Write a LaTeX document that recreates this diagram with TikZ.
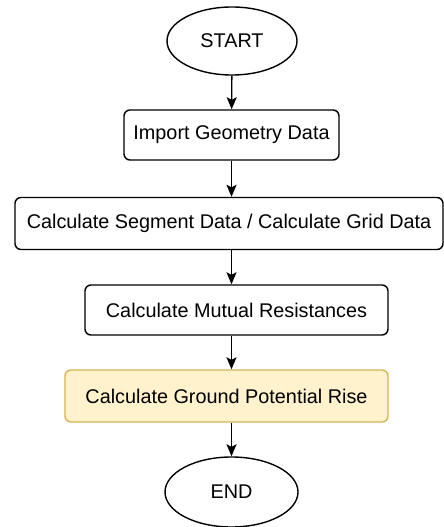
\documentclass[tikz,border=0pt]{standalone}
\usepackage{fontspec}
\setmainfont{Liberation Sans}
\usetikzlibrary{arrows.meta,shapes.geometric}
\begin{document}
\begin{tikzpicture}[x=1bp,y=-1bp,
  every node/.style={font=\fontsize{19.9}{23}\selectfont},
  box/.style={draw=black,line width=1.4bp,rounded corners=6bp,fill=white,inner sep=0pt},
  oval/.style={draw=black,line width=1.4bp,ellipse,fill=white,inner sep=0pt},
  arr/.style={line width=1.4bp,-{Stealth[length=12bp,width=10bp,inset=2.5bp]}}]
\useasboundingbox (0,0) rectangle (444,527);
\node[oval,minimum width=130bp,minimum height=68bp] (start) at (232,41) {START};
\node[box,minimum width=215bp,minimum height=50bp] (imp) at (231.5,135) {Import Geometry Data};
\node[box,minimum width=428bp,minimum height=52bp] (seg) at (229,223.5) {Calculate Segment Data / Calculate Grid Data};
\node[box,minimum width=303bp,minimum height=50bp] (mut) at (236.5,310) {Calculate Mutual Resistances};
\node[box,draw={rgb,255:red,214;green,182;blue,86},fill={rgb,255:red,255;green,242;blue,204},minimum width=323bp,minimum height=52bp] (gpr) at (226.5,396) {Calculate Ground Potential Rise};
\node[oval,minimum width=133bp,minimum height=70bp] (end) at (231.5,492) {END};
\draw[arr] (start) -- (imp);
\draw[arr] (imp) -- (imp|-seg.north);
\draw[arr] (imp|-seg.south) -- (imp|-mut.north);
\draw[arr] (imp|-mut.south) -- (imp|-gpr.north);
\draw[arr] (imp|-gpr.south) -- (end);
\end{tikzpicture}
\end{document}
